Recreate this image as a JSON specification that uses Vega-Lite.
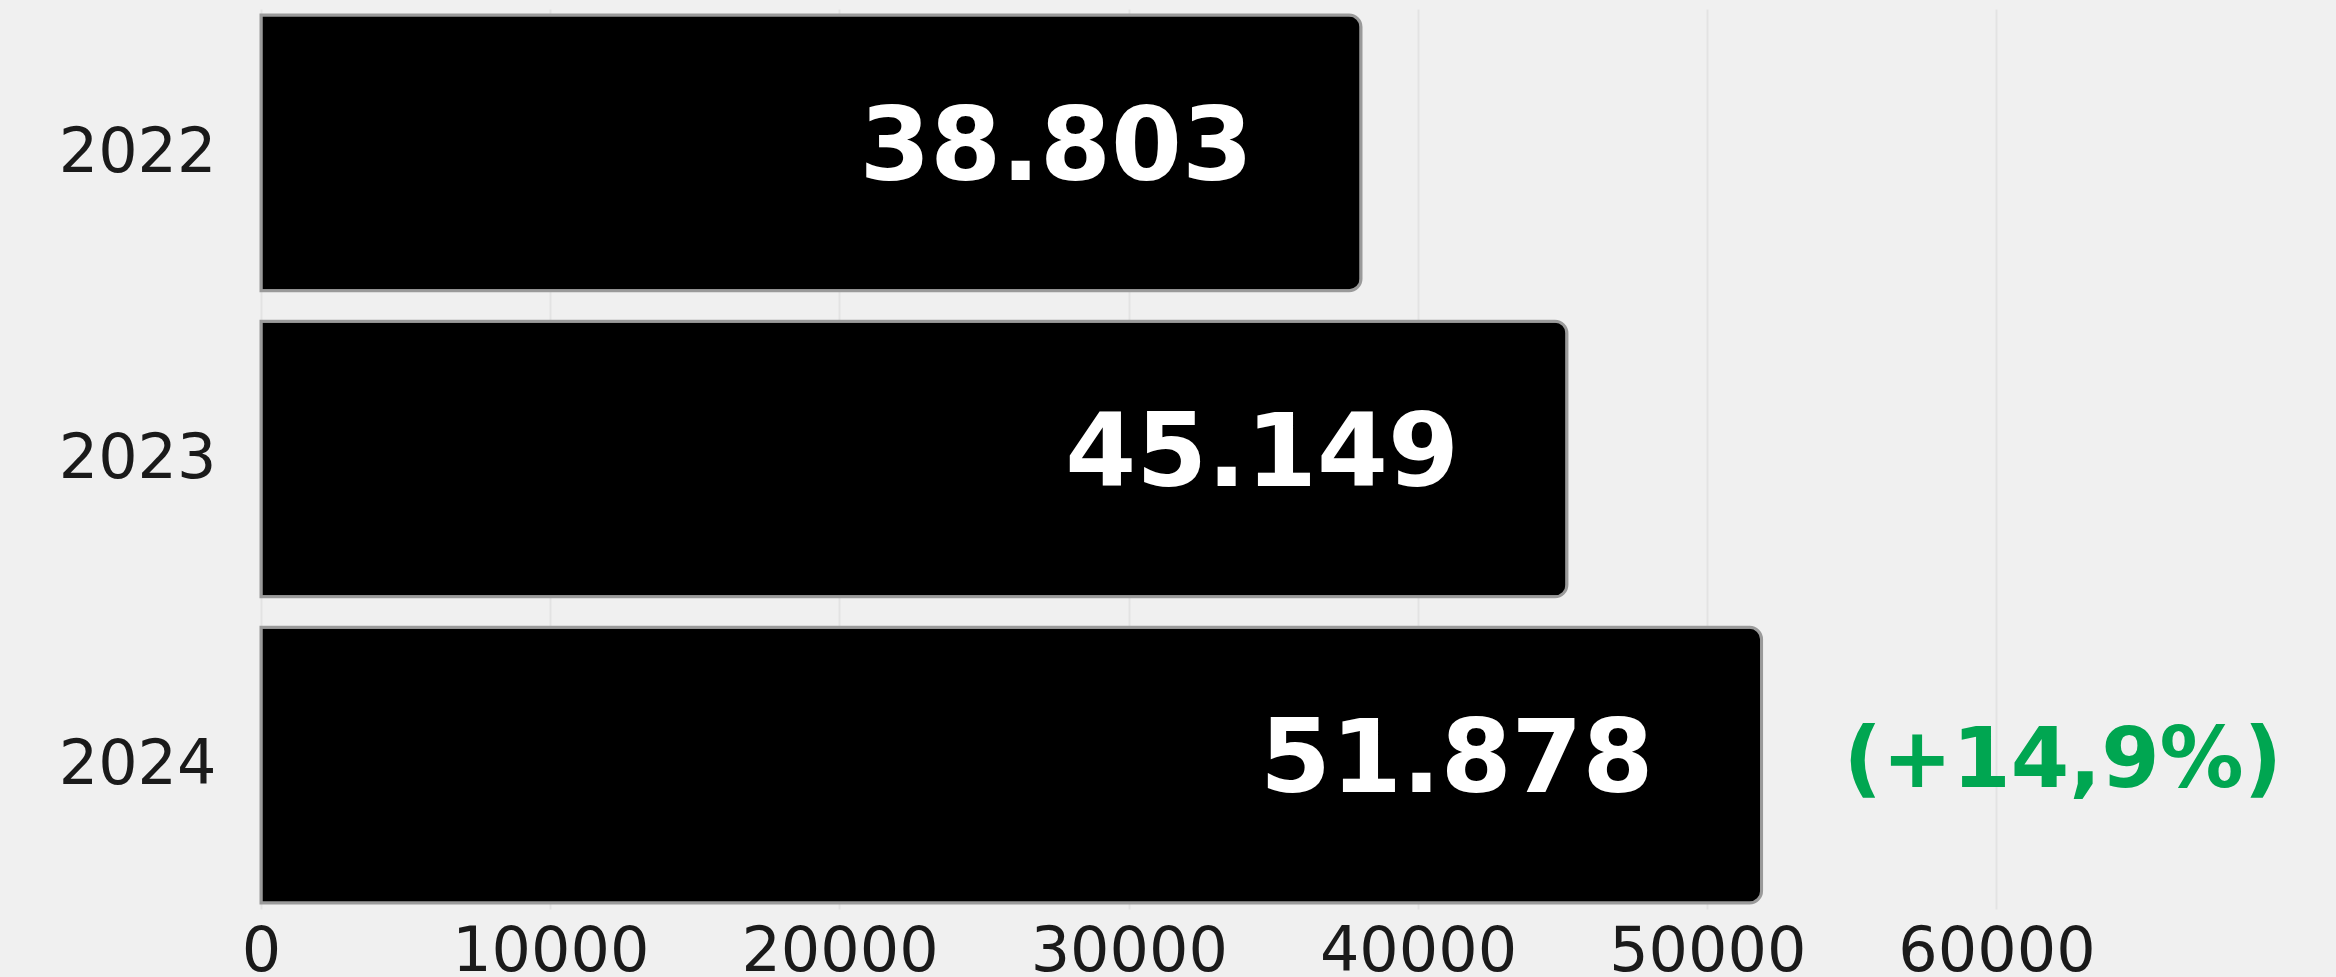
{
  "$schema": "https://vega.github.io/schema/vega-lite/v6.json",
  "autosize": "none",
  "width": 2075,
  "height": 900,
  "padding": {"left": 261, "top": 9, "right": 0, "bottom": 68},
  "background": "#f0f0f0",
  "config": {
    "view": {"stroke": null, "fill": "#f0f0f0"},
    "font": "DejaVu Sans"
  },
  "data": {
    "values": [
      {"year": "2022", "value": 38030, "label": "38.803"},
      {"year": "2023", "value": 45149, "label": "45.149"},
      {"year": "2024", "value": 51878, "label": "51.878", "change": "(+14,9%)"}
    ]
  },
  "encoding": {
    "y": {
      "field": "year",
      "type": "nominal",
      "sort": ["2022", "2023", "2024"],
      "scale": {"paddingInner": 0.1, "paddingOuter": 0.02},
      "axis": {
        "title": null,
        "domain": false,
        "ticks": false,
        "grid": false,
        "labelPadding": 45,
        "labelFontSize": 62,
        "labelLimit": 0,
        "labelColor": "#1a1a1a",
        "labelFont": "DejaVu Sans"
      }
    },
    "x": {
      "field": "value",
      "type": "quantitative",
      "scale": {"domain": [0, 71738], "nice": false, "zero": true},
      "axis": {
        "title": null,
        "values": [0, 10000, 20000, 30000, 40000, 50000, 60000],
        "format": "d",
        "domain": false,
        "ticks": false,
        "grid": true,
        "gridColor": "#e3e3e3",
        "gridWidth": 2,
        "labelPadding": 12,
        "labelFontSize": 62,
        "labelLimit": 0,
        "labelColor": "#1a1a1a",
        "labelFont": "DejaVu Sans",
        "labelFlush": false,
        "labelOverlap": false
      }
    }
  },
  "layer": [
    {
      "mark": {
        "type": "bar",
        "color": "#000000",
        "cornerRadiusEnd": 12,
        "stroke": "#9a9a9a",
        "strokeWidth": 3
      }
    },
    {
      "mark": {
        "type": "text",
        "align": "right",
        "baseline": "middle",
        "dx": -108,
        "dy": -4,
        "font": "DejaVu Sans",
        "fontWeight": "bold",
        "fontSize": 102,
        "color": "#ffffff"
      },
      "encoding": {"text": {"field": "label"}}
    },
    {
      "transform": [{"filter": "datum.change != null"}],
      "mark": {
        "type": "text",
        "align": "left",
        "baseline": "middle",
        "dx": 82,
        "dy": -3,
        "font": "DejaVu Sans",
        "fontWeight": "bold",
        "fontSize": 84,
        "color": "#00a651"
      },
      "encoding": {"text": {"field": "change"}}
    }
  ]
}
